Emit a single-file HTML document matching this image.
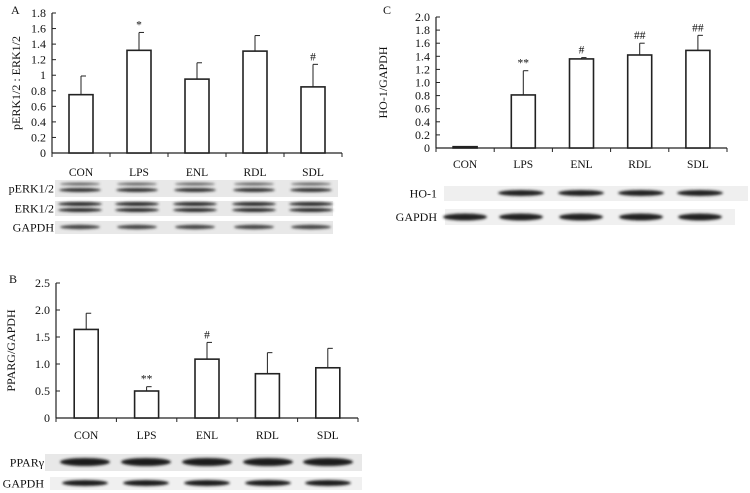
<!DOCTYPE html>
<html><head><meta charset="utf-8"><style>
body{margin:0;background:#fff}
svg{display:block;font-family:"Liberation Serif",serif}
</style></head><body>
<svg id="fig" width="750" height="493" viewBox="0 0 750 493" xmlns="http://www.w3.org/2000/svg">
<defs><filter id="bl" x="-20%" y="-100%" width="140%" height="300%"><feGaussianBlur stdDeviation="1.3"/></filter></defs>
</svg>
<script>
const categories=["CON","LPS","ENL","RDL","SDL"];
const valuesA=[0.75,1.32,0.95,1.31,0.85];
const errTopA=[0.99,1.55,1.16,1.51,1.14];
const marksA=["","*","","","#"];
const ticksA=["0","0.2","0.4","0.6","0.8","1","1.2","1.4","1.6","1.8"];
const valuesB=[1.64,0.50,1.09,0.82,0.93];
const errTopB=[1.94,0.58,1.40,1.21,1.29];
const marksB=["","**","#","",""];
const ticksB=["0","0.5","1.0","1.5","2.0","2.5"];
const valuesC=[0.02,0.81,1.36,1.42,1.49];
const errTopC=[0.02,1.18,1.38,1.60,1.72];
const marksC=["","**","#","##","##"];
const ticksC=["0","0.2","0.4","0.6","0.8","1.0","1.2","1.4","1.6","1.8","2.0"];
const NS="http://www.w3.org/2000/svg";
const svg=document.getElementById('fig');
function mk(tag,attrs,parent){const e=document.createElementNS(NS,tag);for(const k in attrs)e.setAttribute(k,attrs[k]);(parent||svg).appendChild(e);return e;}
function txt(s,x,y,anchor,size,parent){const t=mk('text',{x:x,y:y,'text-anchor':anchor||'middle','font-size':size||11,fill:'#111'},parent);t.textContent=s;return t;}
function chart(id,P,vals,errs,marks,ticks,ymax,ylabel,letter){
  const g=mk('g',{});
  
  
  const y=v=>P.y0-(v/ymax)*(P.y0-P.y1);
  const step=(P.x1-P.x0)/categories.length;
  const xc=i=>P.x0+step*(i+0.5);
  mk('line',{x1:P.x0,y1:P.y1,x2:P.x0,y2:P.y0,stroke:'#222','stroke-width':1.2},g);
  mk('line',{x1:P.x0,y1:P.y0,x2:P.x1,y2:P.y0,stroke:'#222','stroke-width':1.2},g);
  ticks.forEach((t,i)=>{const v=parseFloat(t);const yy=y(v);
    mk('line',{x1:P.x0,y1:yy,x2:P.x0+4,y2:yy,stroke:'#222'},g);
    const tl=txt(t,P.x0-6,yy+4,'end',12,g);
    
    });
  for(let i=0;i<=categories.length;i++){const xx=P.x0+step*i;mk('line',{x1:xx,y1:P.y0,x2:xx,y2:P.y0+4,stroke:'#222'},g);}
  categories.forEach((c,i)=>{
    const w=P.bw;const top=y(vals[i]);
    const b=mk('rect',{x:xc(i)-w/2,y:top,width:w,height:Math.max(P.y0-top,1),fill:'#fff',stroke:'#222','stroke-width':1.6},g);
    
    
    if(errs[i]>vals[i]+0.005){const et=y(errs[i]);
      mk('line',{x1:xc(i),y1:top,x2:xc(i),y2:et,stroke:'#222'},g);
      mk('line',{x1:xc(i),y1:et,x2:xc(i)+5,y2:et,stroke:'#222'},g);}
    if(marks[i]){const m=txt(marks[i],xc(i),y(errs[i])-4,'middle',11.5,g);
      
      }
    const cl=txt(c,xc(i),P.labY,'middle',11.5,g);
    
    
  });
  const yl=txt(ylabel,0,0,'middle',12,g);
  yl.setAttribute('transform','translate('+P.ylx+','+((P.y0+P.y1)/2)+') rotate(-90)');
  
  
  const L=txt(letter,P.lx,P.ly,'start',12,g);
  
  
}
function blot(name,label,lx,x0,x1,y0,y1,bands,lanes,bg){
  const g=mk('g',{});
  
  
  mk('rect',{x:x0,y:y0,width:x1-x0,height:y1-y0,fill:bg||'#e8e8e8'},g);
  lanes.forEach(c=>bands.forEach(b=>{mk('ellipse',{cx:c,cy:b[0],rx:b[2]||21,ry:b[1],fill:b[3]||'#222',filter:'url(#bl)'},g);}));
  txt(label,lx,(y0+y1)/2+4,'end',12,g);
}
chart('chart-a-perk',{x0:52,x1:342,y0:153,y1:13,bw:24,labY:176,ylx:20,lx:11,ly:14},valuesA,errTopA,marksA,ticksA,1.8,'pERK1/2 : ERK1/2','A');
chart('chart-c-ho1',{x0:436,x1:727,y0:148,y1:17,bw:24,labY:168,ylx:387,lx:383,ly:14},valuesC,errTopC,marksC,ticksC,2.0,'HO-1/GAPDH','C');
chart('chart-b-pparg',{x0:56,x1:358,y0:418,y1:283,bw:24,labY:439,ylx:15,lx:9,ly:283},valuesB,errTopB,marksB,ticksB,2.5,'PPARG/GAPDH','B');
const lanesA=[80,137,195,254,311];
blot('blot-perk','pERK1/2',54,55,338,180,197,[[184,1.5,20,'#666'],[190,2,21,'#333']],lanesA);
blot('blot-erk','ERK1/2',54,55,333,201,216,[[204,2,22,'#2a2a2a'],[210,2,22,'#2a2a2a']],lanesA);
blot('blot-gapdh-a','GAPDH',54,55,333,221,234,[[227,2.2,20,'#444']],lanesA);
const lanesC=[465,521,581,641,700];
blot('blot-ho1','HO-1',437,444,748,186,201,[[193,3,23,'#222']],lanesC.slice(1),'#efefef');
blot('blot-gapdh-c','GAPDH',437,445,735,209,225,[[217,3.5,22,'#222']],lanesC,'#f0f0f0');
const lanesB=[85,146,207,268,328];
blot('blot-pparg','PPARγ',44,45,362,454,471,[[462,4,25,'#1a1a1a']],lanesB);
blot('blot-gapdh-b','GAPDH',44,50,362,477,490,[[483,3,23,'#1a1a1a']],lanesB,'#f0f0f0');
</script>
</body></html>
